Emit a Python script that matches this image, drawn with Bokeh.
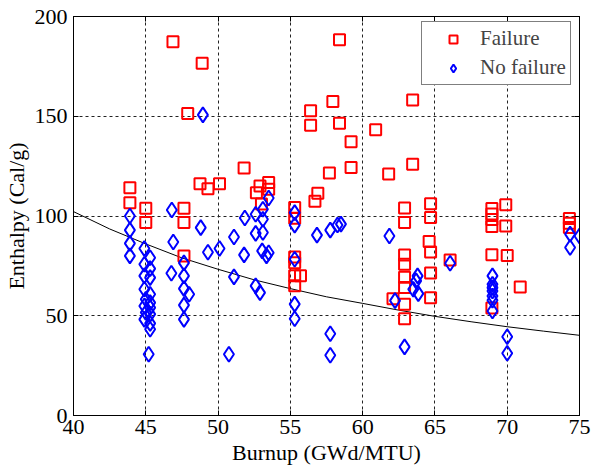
from bokeh.plotting import figure
from bokeh.models import Range1d, LinearAxis, FixedTicker, Legend, LegendItem, ColumnDataSource
from bokeh.embed import file_html
from bokeh.resources import INLINE

# Failure cases (red squares)
fail_burnup = [43.9, 43.9, 45.0, 45.0, 46.88, 47.64, 47.64, 47.64, 47.9, 48.75, 48.9, 49.3, 50.1,
               51.8, 52.65, 52.9, 53.0, 53.5, 53.5, 55.3, 55.3, 55.3, 55.3, 55.3, 55.7, 55.3,
               56.4, 56.4, 56.7, 56.9, 57.7, 57.94, 58.4, 58.4, 59.2, 59.2, 60.9, 61.8, 62.1,
               62.9, 62.9, 62.9, 62.9, 62.9, 62.9, 62.9, 62.9, 63.46, 63.46, 64.7, 64.7, 64.6,
               64.7, 64.7, 64.7, 66.05, 68.94, 68.94, 68.94, 68.94, 68.94, 68.94, 69.9, 69.9,
               70.0, 70.9, 74.3, 74.3, 74.3]
fail_enthalpy = [114.2, 106.7, 103.9, 96.7, 187.3, 103.9, 96.7, 80.0, 151.4, 116.2, 176.6, 113.7, 116.2,
                 124.0, 111.7, 115.1, 106.0, 116.8, 113.4, 104.2, 98.9, 79.5, 76.6, 70.0, 70.0, 65.0,
                 152.7, 145.5, 107.4, 111.4, 121.5, 157.4, 188.3, 146.5, 137.2, 124.3, 143.2, 121.0, 58.5,
                 104.0, 96.7, 80.5, 75.8, 69.3, 64.1, 55.8, 48.5, 158.2, 126.0, 106.2, 99.2, 87.2,
                 82.0, 71.4, 59.0, 78.0, 103.7, 101.0, 98.2, 94.7, 80.6, 53.9, 105.6, 95.0,
                 80.2, 64.4, 98.7, 96.4, 94.2]

# No-failure cases (blue diamonds)
nofail_burnup = [43.9, 43.9, 43.9, 43.9,
                 44.9, 44.9, 44.9, 44.9, 44.9, 44.9,
                 45.3, 45.3, 45.3, 45.3, 45.3, 45.3, 45.3, 45.3, 45.3,
                 45.0, 45.0, 45.2,
                 46.8, 46.9, 46.77,
                 47.64, 47.64, 47.64, 47.64, 47.64,
                 48.0, 48.8, 48.95, 49.3, 50.1, 50.75, 51.1, 51.1, 51.85, 51.8,
                 52.6, 52.6, 52.6, 52.9, 53.1, 53.1, 53.1, 53.05, 53.5, 53.35, 53.5,
                 55.3, 55.3, 55.3, 55.3, 55.3,
                 56.84, 57.76, 58.26, 58.5, 57.76, 57.76, 61.85, 62.24, 62.9,
                 63.8, 63.7, 63.5, 63.85, 66.05,
                 68.98, 68.98, 68.98, 68.98, 68.98, 68.98, 68.98,
                 70.0, 70.0, 74.35, 75.0, 74.35]
nofail_enthalpy = [100.0, 92.9, 86.3, 80.0,
                   83.7, 75.8, 70.0, 63.3, 54.9, 48.2,
                   79.1, 73.6, 69.1, 60.8, 56.6, 54.1, 50.8, 46.2, 43.2,
                   58.3, 51.6, 30.7,
                   103.0, 87.0, 71.3,
                   76.5, 70.0, 63.6, 55.3, 48.2,
                   60.8, 94.2, 150.7, 81.8, 83.7, 30.7, 89.5, 69.5, 99.0, 80.5,
                   100.9, 91.3, 65.0, 61.6, 103.4, 98.4, 91.7, 82.5, 81.6, 80.0, 109.0,
                   101.7, 95.4, 78.3, 55.8, 48.5,
                   90.4, 92.9, 95.5, 95.9, 41.0, 30.2, 90.0, 57.6, 34.4,
                   70.0, 67.5, 63.3, 61.1, 76.3,
                   70.0, 65.8, 64.1, 62.4, 59.9, 57.8, 52.4,
                   39.5, 31.2, 90.9, 90.0, 84.2]

# Failure threshold curve
curve_burnup = [40, 42.5, 45, 47.5, 50, 52.5, 55, 57.5, 60, 62.5, 65, 67.5, 70, 72.5, 75]
curve_enthalpy = [102.2, 93.5, 86.0, 79.0, 73.3, 68.0, 63.6, 59.5, 56.2, 52.8, 49.7, 47.0, 44.5, 42.3, 40.2]

x_ticks = [40, 45, 50, 55, 60, 65, 70, 75]
y_ticks = [0, 50, 100, 150, 200]

FONT = "Liberation Serif"

p = figure(frame_width=506, frame_height=399, output_backend="svg", toolbar_location=None,
           x_range=Range1d(40, 75), y_range=Range1d(0, 200),
           min_border_left=64, min_border_right=13, min_border_top=16, min_border_bottom=46,
           background_fill_color="white", border_fill_color="white")
p.outline_line_color = "black"
p.outline_line_width = 1

for ax in (p.xaxis[0], p.yaxis[0]):
    ax.major_tick_in = 5
    ax.major_tick_out = 0
    ax.minor_tick_in = 0
    ax.minor_tick_out = 0
    ax.axis_line_color = "black"
    ax.major_tick_line_color = "black"
    ax.major_label_text_font = FONT
    ax.major_label_text_font_size = "22px"
    ax.major_label_text_color = "black"
    ax.axis_label_text_font = FONT
    ax.axis_label_text_font_size = "22px"
    ax.axis_label_text_font_style = "normal"
    ax.axis_label_text_color = "black"

p.xaxis.ticker = FixedTicker(ticks=x_ticks)
p.yaxis.ticker = FixedTicker(ticks=y_ticks)
p.xaxis.axis_label = "Burnup (GWd/MTU)"
p.yaxis.axis_label = "Enthalpy (Cal/g)"
p.xaxis.major_label_standoff = 4
p.yaxis.major_label_standoff = 6
p.xaxis.axis_label_standoff = 3
p.yaxis.axis_label_standoff = 3

# ticks on top and right (labels hidden)
top = LinearAxis(ticker=FixedTicker(ticks=x_ticks), major_tick_in=5, major_tick_out=0,
                 minor_tick_in=0, minor_tick_out=0, major_label_text_font_size="1px",
                 major_label_text_color=None, axis_line_color="black", major_label_standoff=0)
right = LinearAxis(ticker=FixedTicker(ticks=y_ticks), major_tick_in=5, major_tick_out=0,
                   minor_tick_in=0, minor_tick_out=0, major_label_text_font_size="1px",
                   major_label_text_color=None, axis_line_color="black", major_label_standoff=0)
p.add_layout(top, "above")
p.add_layout(right, "right")

p.xgrid.ticker = FixedTicker(ticks=x_ticks)
p.ygrid.ticker = FixedTicker(ticks=y_ticks)
for g in (p.xgrid[0], p.ygrid[0]):
    g.grid_line_color = "#222222"
    g.grid_line_dash = "3 3"
    g.grid_line_width = 1

curve_src = ColumnDataSource(dict(x=curve_burnup, y=curve_enthalpy))
p.line("x", "y", source=curve_src, line_color="black", line_width=1)

fail_src = ColumnDataSource(dict(x=fail_burnup, y=fail_enthalpy))
nofail_src = ColumnDataSource(dict(x=nofail_burnup, y=nofail_enthalpy))
r_fail = p.scatter("x", "y", source=fail_src, marker="square", size=11,
                   line_color="#ff0000", fill_color=None, line_width=2)
r_nofail = p.scatter("x", "y", source=nofail_src, marker="diamond", size=15,
                     line_color="#0000ff", fill_color=None, line_width=2)

legend = Legend(items=[LegendItem(label="Failure", renderers=[r_fail]),
                       LegendItem(label="No failure", renderers=[r_nofail])],
                location=(348, 330), margin=0, padding=4, spacing=4,
                glyph_width=54, glyph_height=20, label_height=20, label_standoff=0,
                label_text_font=FONT, label_text_font_size="21px",
                border_line_color="black", border_line_width=1,
                background_fill_color="white", background_fill_alpha=1)
p.add_layout(legend, "center")

open("out.html", "w").write(file_html(p, INLINE))
